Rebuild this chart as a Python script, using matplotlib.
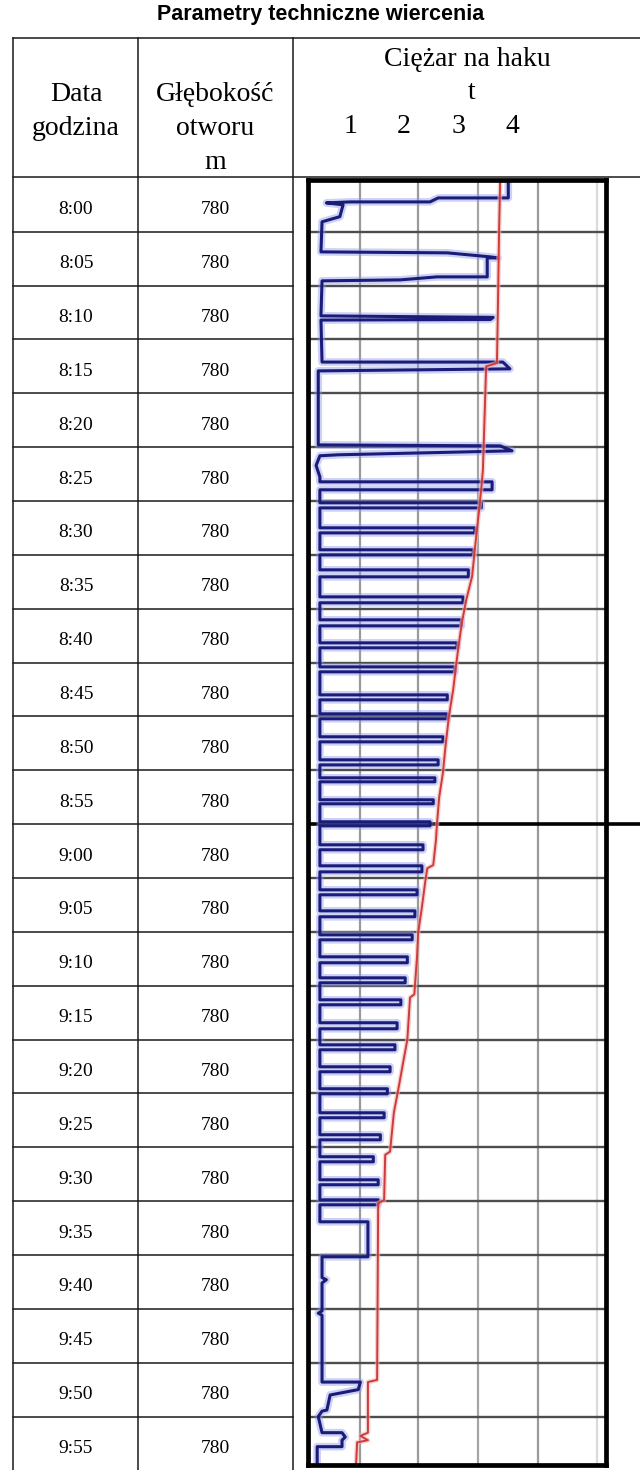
import matplotlib
matplotlib.use("Agg")
import matplotlib.pyplot as plt
from matplotlib.transforms import blended_transform_factory as btf, offset_copy

# ---------------- data ----------------
row_times = ["8:00", "8:05", "8:10", "8:15", "8:20", "8:25", "8:30", "8:35",
             "8:40", "8:45", "8:50", "8:55", "9:00", "9:05", "9:10", "9:15",
             "9:20", "9:25", "9:30", "9:35", "9:40", "9:45", "9:50", "9:55"]
row_depth = [780] * 24
load_ticks = [1, 2, 3, 4]

# red trace: minutes after 8:00 / load [t]
red_min = [0.2, 4.8, 11.3, 17.2, 17.5, 27.1, 28.3, 30.8, 34.5, 37.0, 39.2, 41.3,
           43.8, 45.4, 47.5, 50.0, 53.1, 55.2, 57.5, 59.9, 61.5, 63.8, 64.1, 65.4,
           67.7, 70.1, 72.3, 75.8, 76.1, 80.0, 82.2, 84.7, 86.8, 90.4, 90.7, 94.9,
           95.2, 111.6, 111.8, 116.5, 116.8, 117.2, 117.4, 119.5]
red_t = [3.78, 3.76, 3.74, 3.72, 3.52, 3.46, 3.44, 3.39, 3.31, 3.26, 3.15, 3.07,
         3.00, 2.96, 2.91, 2.83, 2.76, 2.72, 2.65, 2.61, 2.59, 2.54, 2.43, 2.39,
         2.33, 2.26, 2.24, 2.19, 2.11, 2.06, 1.98, 1.89, 1.81, 1.74, 1.65, 1.63,
         1.52, 1.50, 1.33, 1.33, 1.19, 1.33, 1.13, 1.11]

# blue trace, first part (8:00 - 8:28)
blue_top_min = [0.2, 1.86, 1.86, 2.23, 2.23, 2.32, 2.5, 3.6, 4.08, 6.87, 6.96, 7.33,
                7.43, 7.43, 9.19, 9.19, 9.47, 9.56, 12.81, 12.95, 13.15, 13.2, 17.1,
                17.1, 17.73, 17.92, 24.79, 24.88, 25.34, 25.71, 25.8, 26.7, 27.76]
blue_top_t = [3.93, 3.93, 2.63, 2.48, 1.00, 0.56, 0.87, 0.81, 0.48, 0.46, 2.80, 3.59,
              3.74, 3.54, 3.54, 2.61, 1.93, 0.48, 0.46, 3.65, 3.60, 0.46, 0.48,
              3.83, 3.96, 0.41, 0.41, 3.78, 4.00, 0.78, 0.44, 0.37, 0.44]

# blue trace, dense lifting cycles: time of the stroke out, time of return, reach [t]
cyc_out_min = [28.22, 30.17, 32.49, 34.53, 36.39, 38.90, 41.03, 43.17, 45.40, 48.00,
               49.76, 51.89, 54.03, 55.70, 57.74, 59.78, 61.92, 63.87, 66.10, 68.05,
               70.28, 72.32, 74.27, 76.31, 78.44, 80.49, 82.53, 84.57, 86.80, 88.84,
               90.88, 93.02, 94.88]
cyc_back_min = [28.96, 30.64, 32.96, 35.00, 37.04, 39.45, 41.59, 43.63, 45.86, 48.46,
                50.22, 52.36, 54.50, 56.07, 58.11, 60.16, 62.38, 64.43, 66.56, 68.60,
                70.74, 72.87, 74.73, 76.77, 79.00, 80.95, 82.99, 85.04, 87.26, 89.31,
                91.35, 93.48, 95.34]
cyc_reach_t = [3.63, 3.43, 3.31, 3.28, 3.19, 3.09, 3.06, 2.98, 2.94, 2.80,
               2.80, 2.72, 2.63, 2.57, 2.54, 2.48, 2.35, 2.33, 2.24, 2.20,
               2.15, 2.06, 2.02, 1.94, 1.87, 1.83, 1.74, 1.69, 1.63, 1.56,
               1.43, 1.52, 1.52]
rest_t = 0.44

# blue trace, last part (9:35 - 10:00)
blue_end_min = [96.92, 96.92, 100.17, 100.17, 102.1, 102.3, 102.6, 105.2, 105.4, 105.6,
                111.8, 111.8, 112.5, 113.0, 114.4, 114.5, 115.0, 116.5, 116.5, 116.9,
                117.2, 117.8, 117.8, 119.5]
blue_end_t = [0.44, 1.33, 1.33, 0.48, 0.48, 0.56, 0.48, 0.48, 0.41, 0.48,
              0.48, 1.19, 1.15, 0.63, 0.57, 0.48, 0.41, 0.48, 0.85, 0.91,
              0.85, 0.85, 0.39, 0.39]

# ---------------- figure ----------------
W, H = 640, 1470
fig = plt.figure(figsize=(6.4, 14.7), dpi=100)
fig.patch.set_facecolor("white")

ov = fig.add_axes([0, 0, 1, 1])
ov.set_xlim(0, W)
ov.set_ylim(H, 0)
ov.axis("off")

ax = fig.add_axes([308 / W, 1 - 1465 / H, (606 - 308) / W, (1465 - 179.5) / H])
ax.set_xlim(0.22, 5.74)
ax.set_ylim(119.5, 0.15)
ax.set_xticks([])
ax.set_yticks([])
for s in ax.spines.values():
    s.set_linewidth(3.4)
    s.set_color("black")
    s.set_zorder(10)

# grid
for gx, gc in [(1.19, "#9a9a9a"), (2.26, "#9a9a9a"), (3.37, "#a5a5a5"),
               (4.48, "#9a9a9a"), (5.57, "#dadada")]:
    ax.axvline(gx, color=gc, lw=1.6, zorder=1)
for m in range(5, 120, 5):
    if m == 60:
        ax.axhline(m, color="black", lw=2.6, zorder=1)
    else:
        ax.axhline(m, color="#4d4d4d", lw=1.7, zorder=1)

# blue trace path
bm = list(blue_top_min)
bt = list(blue_top_t)
for a, b, r in zip(cyc_out_min, cyc_back_min, cyc_reach_t):
    bm += [a, a, b, b]
    bt += [rest_t, r, r, rest_t]
bm += blue_end_min
bt += blue_end_t

ax.plot(bt, bm, color="#8f9aea", lw=5.5, alpha=0.45, zorder=2, solid_joinstyle="round")
ax.plot(bt, bm, color="#1a1c7a", lw=2.2, zorder=3, solid_joinstyle="round")

ax.plot(red_t, red_min, color="#f0b4b4", lw=3.4, alpha=0.6, zorder=4)
ax.plot(red_t, red_min, color="#cf3a3a", lw=1.4, zorder=5)

# ---------------- table ----------------
tr_row = btf(ov.transData, ax.transData)
tr_lbl = offset_copy(tr_row, fig=fig, y=-5, units="dots")
lc = "#1a1a1a"
for m in range(5, 120, 5):
    ov.plot([13, 293], [m, m], transform=tr_row, color=lc, lw=1.1)
ov.plot([606, 640], [60, 60], transform=tr_row, color="black", lw=2.6)
for x in (13, 138, 293):
    ov.plot([x, x], [38, H], color=lc, lw=1.1)
ov.plot([13, W], [38, 38], color=lc, lw=1.1)
ov.plot([13, W], [177, 177], color=lc, lw=1.1)

ov.text(321, 14, "Parametry techniczne wiercenia", ha="center", va="center",
        fontsize=15.5, fontweight="bold", family="Liberation Sans")

serif = "Liberation Serif"
hs = 20
ov.text(76, 94, "Data", ha="center", va="center", fontsize=hs, family=serif)
ov.text(76, 128, "godzina", ha="center", va="center", fontsize=hs, family=serif)
ov.text(215, 94, "Głębokość", ha="center", va="center", fontsize=hs, family=serif)
ov.text(215, 128, "otworu", ha="center", va="center", fontsize=hs, family=serif)
ov.text(215, 162, "m", ha="center", va="center", fontsize=hs, family=serif)
ov.text(467, 59, "Ciężar na haku", ha="center", va="center", fontsize=hs, family=serif)
ov.text(472, 92, "t", ha="center", va="center", fontsize=hs, family=serif)
tr_tick = btf(ax.transData, ov.transData)
for v in load_ticks:
    ov.text(v, 126, str(v), transform=tr_tick, ha="center", va="center",
            fontsize=hs, family=serif)

for i, (tm, d) in enumerate(zip(row_times, row_depth)):
    yc = 2.5 + 5 * i
    ov.text(76, yc, tm, transform=tr_lbl, ha="center", va="center",
            fontsize=14, family=serif)
    ov.text(215.5, yc, str(d), transform=tr_lbl, ha="center", va="center",
            fontsize=14, family=serif)

fig.savefig("out.png", dpi=100, facecolor="white")
